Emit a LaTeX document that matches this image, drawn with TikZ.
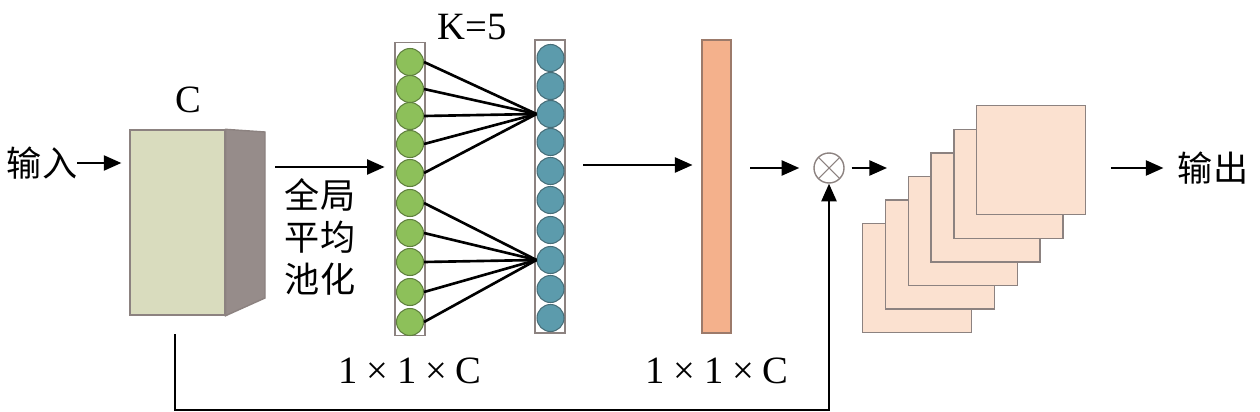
\documentclass[tikz,border=0pt]{standalone}
\usepackage{fontspec}
\setmainfont{Liberation Serif}
\newfontfamily\cjk{Noto Sans CJK SC}
\usetikzlibrary{arrows.meta,calc}
\definecolor{frontc}{HTML}{D9DCBE}
\definecolor{sidec}{HTML}{968C8A}
\definecolor{greenc}{HTML}{8DC05A}
\definecolor{greenb}{HTML}{5F7F3E}
\definecolor{bluec}{HTML}{5C9BAC}
\definecolor{blueb}{HTML}{466D78}
\definecolor{barc}{HTML}{F4B18C}
\definecolor{barb}{HTML}{9C7A6A}
\definecolor{sqc}{HTML}{FBE1D0}
\definecolor{edgec}{HTML}{8C8280}
\newcommand{\dimtext}{1\hspace{5pt}×\hspace{5pt}1\hspace{5pt}×\hspace{5pt}C}
\tikzset{
  arr/.style={line width=1.4pt,-{Triangle[length=10pt,width=8.5pt]}},
  link/.style={line width=1.5pt},
  colbox/.style={draw=edgec,line width=0.8pt,minimum width=0.6cm,minimum height=5.86cm,inner sep=0pt},
  gcirc/.style={circle,draw=greenb,fill=greenc,line width=0.6pt,minimum size=0.54cm,inner sep=0pt},
  bcirc/.style={circle,draw=blueb,fill=bluec,line width=0.6pt,minimum size=0.54cm,inner sep=0pt},
  lat/.style={font=\fontsize{22}{26}\selectfont,inner sep=0pt},
  zh/.style={font=\cjk\fontsize{20}{24}\selectfont,inner sep=0pt},
  sq/.style={draw=edgec,fill=sqc,line width=0.8pt,minimum size=2.18cm,inner sep=0pt,anchor=north west},
}
\begin{document}
\begin{tikzpicture}[x=0.02cm,y=-0.02cm]
\useasboundingbox (0,0) rectangle (1260,412);
% input
\node[zh] (in) at (42,163) {输入};
% box
\node[draw=edgec,fill=frontc,line width=0.8pt,minimum width=1.9cm,minimum height=3.7cm,inner sep=0pt] (box) at (177.5,222.5) {};
\draw[draw=edgec,fill=sidec,line width=0.8pt] (box.north east) -- (265,132) -- (265,298) -- (box.south east) -- cycle;
\coordinate (sideR) at (265,167);
\node[lat] (clab) at (188,100) {C};
\draw[arr,shorten >=4.5pt] (in.east) -- (box.west |- in.east);
% pooling text
\node[zh,align=center,font=\cjk\fontsize{20}{23.8}\selectfont] (pool) at (320,237) {全局\\平均\\池化};
% columns
\node[colbox] (gcol) at (410,189) {};
\node[colbox] (bcol) at (550,186.5) {};
\foreach \y [count=\i] in {62,89,116,144,173,203,233,262,292,322}
  \node[gcirc] (g\i) at (410,\y) {};
\foreach \y [count=\i] in {58,86,114,142,171,200,230,260,289,318}
  \node[bcirc] (b\i) at (550.5,\y) {};
\foreach \i in {1,...,5} \draw[link] (g\i.east) -- (b3.west);
\foreach \i in {6,...,10} \draw[link] (g\i.east) -- (b8.west);
\node[lat] (k) at (472,27) {K=5};
\draw[arr,shorten <=5.7pt,shorten >=5.5pt] (sideR) -- (gcol.west |- sideR);
% bar
\node[draw=barb,fill=barc,line width=0.8pt,minimum width=0.58cm,minimum height=5.86cm,inner sep=0pt] (bar) at (716.5,186.5) {};
\draw[arr,shorten <=10pt,shorten >=5pt] (bcol.east |- 0,165) -- (bar.west |- 0,165);
\node[lat] (d1) at (410,371) {\dimtext};
\node[lat] (d2) at (717,371) {\dimtext};
% multiply
\node[circle,draw=edgec,line width=0.8pt,minimum size=0.6cm,inner sep=0pt,
  path picture={\draw[edgec,line width=0.6pt] (path picture bounding box.north west) -- (path picture bounding box.south east)
  (path picture bounding box.north east) -- (path picture bounding box.south west);}] (mul) at (829,168) {};
\draw[arr,shorten <=10.5pt,shorten >=8pt] (bar.east |- mul) -- (mul.west);
% squares
\foreach \i in {0,...,5}
  \node[sq] (s\i) at ({862+22.8*\i},{223-23.6*\i}) {};
\coordinate (sqin) at (887,168);
\draw[arr,shorten <=4pt] (mul.east) -- (sqin);
% output
\node[zh] (out) at (1213,168) {输出};
\draw[arr,shorten <=14pt,shorten >=8pt] (s5.east |- out) -- (out.west);
% skip connection
\coordinate (bot) at (0,410);
\coordinate (skipstart) at (175,334);
\draw[arr] (skipstart) -- (skipstart |- bot) -| (mul.south);
\end{tikzpicture}
\end{document}
